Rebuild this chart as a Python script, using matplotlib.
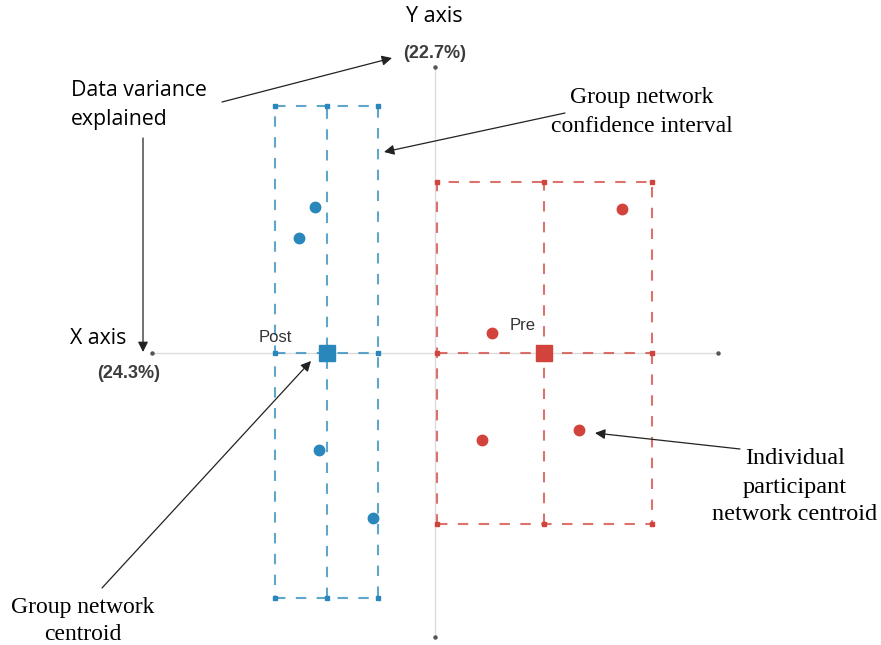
import matplotlib
matplotlib.use("Agg")
import matplotlib.pyplot as plt

# ---- data (ENA space) ----
post_x = [-1.20, -1.36, -1.16, -0.62]
post_y = [1.46, 1.15, -0.97, -1.65]
pre_x = [1.87, 0.57, 0.47, 1.44]
pre_y = [1.44, 0.20, -0.87, -0.77]
post_centroid = (-1.08, 0.0)
pre_centroid = (1.09, 0.0)
post_ci_x = (-1.60, -0.57)
post_ci_y = (-2.45, 2.47)
pre_ci_x = (0.02, 2.17)
pre_ci_y = (-1.71, 1.71)
axis_x_range = (-2.83, 2.83)
axis_y_range = (-2.84, 2.86)
x_var_label = "(24.3%)"
y_var_label = "(22.7%)"

BLUE = "#2a87bb"
RED = "#d2433b"

fig = plt.figure(figsize=(8.81, 6.45), dpi=100)
ax = fig.add_axes([0, 0, 1, 1])
ax.set_xlim(-4.35, 4.46)
ax.set_ylim(-2.92, 3.53)
ax.axis("off")

# axes lines
ax.plot(axis_x_range, [0, 0], color="#dcdcdc", lw=1, zorder=1)
ax.plot([0, 0], axis_y_range, color="#dcdcdc", lw=1, zorder=1)
ax.plot(axis_x_range, [0, 0], ls="none", marker="o", ms=2.2, color="#555555", zorder=2)
ax.plot([0, 0], axis_y_range, ls="none", marker="o", ms=2.2, color="#555555", zorder=2)


def ci_box(cx, cy, xr, yr, color):
    x0, x1 = xr
    y0, y1 = yr
    kw = dict(color=color, lw=1.5, ls=(0, (5, 5)), alpha=0.75, zorder=3)
    ax.plot([x0, x1, x1, x0, x0], [y0, y0, y1, y1, y0], **kw)
    ax.plot([cx, cx], [y0, y1], **kw)
    ax.plot([x0, x1], [cy, cy], **kw)
    px = [x0, cx, x1, x0, x1, x0, cx, x1]
    py = [y1, y1, y1, cy, cy, y0, y0, y0]
    ax.plot(px, py, ls="none", marker="s", ms=3.5, color=color, zorder=4)
    ax.plot([cx], [cy], ls="none", marker="s", ms=11, color=color, zorder=5)


ci_box(post_centroid[0], post_centroid[1], post_ci_x, post_ci_y, BLUE)
ci_box(pre_centroid[0], pre_centroid[1], pre_ci_x, pre_ci_y, RED)

ax.plot(post_x, post_y, ls="none", marker="o", ms=7.5, color=BLUE, zorder=6)
ax.plot(pre_x, pre_y, ls="none", marker="o", ms=7.5, color=RED, zorder=6)

ax.text(post_centroid[0] - 0.52, 0.08, "Post", fontsize=12, color="#333333",
        ha="center", va="bottom", family="Liberation Sans", zorder=7)
ax.text(pre_centroid[0] - 0.21, 0.20, "Pre", fontsize=12, color="#333333",
        ha="center", va="bottom", family="Liberation Sans", zorder=7)

# ---- annotations in figure pixel coords ----
W, H = 881, 645


def fx(px):
    return px / W


def fy(py):
    return 1 - py / H


sans = "Open Sans"
serif = "Liberation Serif"
fig.text(fx(434), fy(17), "Y axis", fontsize=15.5, family=sans, ha="center", va="center")
fig.text(fx(435), fy(54), y_var_label, fontsize=13, family="Liberation Sans",
         weight="bold", color="#3c3c3c", ha="center", va="center")
fig.text(fx(71), fy(91), "Data variance", fontsize=15.3, family=sans, ha="left", va="center")
fig.text(fx(71), fy(119), "explained", fontsize=15.3, family=sans, ha="left", va="center")
fig.text(fx(70), fy(338), "X axis", fontsize=15.3, family=sans, ha="left", va="center")
fig.text(fx(129), fy(374), x_var_label, fontsize=13, family="Liberation Sans",
         weight="bold", color="#3c3c3c", ha="center", va="center")

fig.text(fx(642), fy(97), "Group network", fontsize=17, family=serif, ha="center", va="center")
fig.text(fx(642), fy(127), "confidence interval", fontsize=17, family=serif, ha="center", va="center")
fig.text(fx(795), fy(459), "Individual", fontsize=17.5, family=serif, ha="center", va="center")
fig.text(fx(795), fy(487), "participant", fontsize=17.5, family=serif, ha="center", va="center")
fig.text(fx(795), fy(515), "network centroid", fontsize=17.5, family=serif, ha="center", va="center")
fig.text(fx(83), fy(608), "Group network", fontsize=17, family=serif, ha="center", va="center")
fig.text(fx(83), fy(635), "centroid", fontsize=17, family=serif, ha="center", va="center")

arrows = [((222, 102), (392, 58)), ((143, 138), (143, 352)),
          ((565, 113), (384, 152)), ((740, 449), (595, 433)),
          ((102, 588), (311, 361))]
for (sx, sy), (ex, ey) in arrows:
    fig.add_artist(matplotlib.patches.FancyArrowPatch(
        (fx(sx), fy(sy)), (fx(ex), fy(ey)), transform=fig.transFigure,
        arrowstyle="-|>,head_length=6,head_width=3", color="#222222", lw=0.9,
        shrinkA=0, shrinkB=0))

fig.savefig("out.png", dpi=100)
